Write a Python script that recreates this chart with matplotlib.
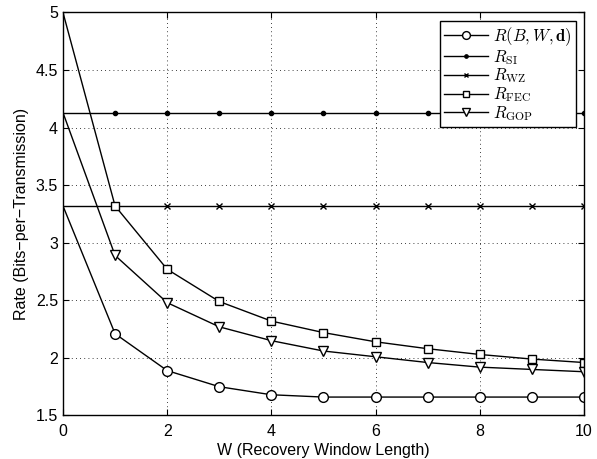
import matplotlib
matplotlib.use("Agg")
import matplotlib.pyplot as plt

W = [0, 1, 2, 3, 4, 5, 6, 7, 8, 9, 10]
r_bwd = [3.32, 2.21, 1.89, 1.75, 1.68, 1.66, 1.66, 1.66, 1.66, 1.66, 1.66]
r_si = [4.13, 4.13, 4.13, 4.13, 4.13, 4.13, 4.13, 4.13, 4.13, 4.13, 4.13]
r_wz = [3.32, 3.32, 3.32, 3.32, 3.32, 3.32, 3.32, 3.32, 3.32, 3.32, 3.32]
r_fec = [5.0, 3.32, 2.77, 2.49, 2.32, 2.22, 2.14, 2.08, 2.03, 1.99, 1.96]
r_gop = [4.13, 2.89, 2.48, 2.27, 2.15, 2.06, 2.01, 1.96, 1.92, 1.90, 1.88]
labels = [r"$R(B,W,\mathbf{d})$", r"$R_{\mathrm{SI}}$", r"$R_{\mathrm{WZ}}$",
          r"$R_{\mathrm{FEC}}$", r"$R_{\mathrm{GOP}}$"]

plt.rcParams['font.family'] = ['Liberation Sans', 'DejaVu Sans']
plt.rcParams['mathtext.fontset'] = 'cm'

fig = plt.figure(figsize=(5.97, 4.59), dpi=100)
ax = fig.add_axes([0.1055, 0.0948, 0.8725, 0.878])

me = slice(1, None)
kw = dict(color='black', lw=1.0, markevery=me)
ax.plot(W, r_bwd, marker='o', ms=7, mfc='white', mec='black', mew=1.0, label=labels[0], **kw)
ax.plot(W, r_si, marker='.', ms=6, mfc='black', mec='black', label=labels[1], **kw)
ax.plot(W, r_wz, marker='x', ms=4, mec='black', mew=1.0, label=labels[2], **kw)
ax.plot(W, r_fec, marker='s', ms=6, mfc='white', mec='black', mew=1.0, label=labels[3], **kw)
ax.plot(W, r_gop, marker='v', ms=7.5, mfc='white', mec='black', mew=1.0, label=labels[4], **kw)

ax.set_xlim(0, 10)
ax.set_ylim(1.5, 5)
ax.set_xticks([0, 2, 4, 6, 8, 10])
ax.set_yticks([1.5, 2, 2.5, 3, 3.5, 4, 4.5, 5])
ax.set_yticklabels(['1.5', '2', '2.5', '3', '3.5', '4', '4.5', '5'])
ax.tick_params(direction='in', top=True, right=True, labelsize=11.5, length=4, width=0.8)
ax.tick_params(axis='x', pad=6)
ax.grid(True, linestyle=(0, (1, 4)), color='black', lw=0.6)
for s in ax.spines.values():
    s.set_linewidth(1.0)

ax.set_xlabel('W (Recovery Window Length)', fontsize=11.5, labelpad=3)
ax.set_ylabel('Rate (Bits\u2212per\u2212Transmission)', fontsize=11.5, labelpad=5)

leg = ax.legend(loc='upper right', fontsize=12, numpoints=1, handlelength=2.6,
                fancybox=False, framealpha=1, edgecolor='black',
                borderaxespad=0.5, labelspacing=0.0, handletextpad=0.3,
                borderpad=0.25, markerscale=0.8)
leg.get_frame().set_linewidth(1.0)

fig.savefig('out.png', dpi=100)
